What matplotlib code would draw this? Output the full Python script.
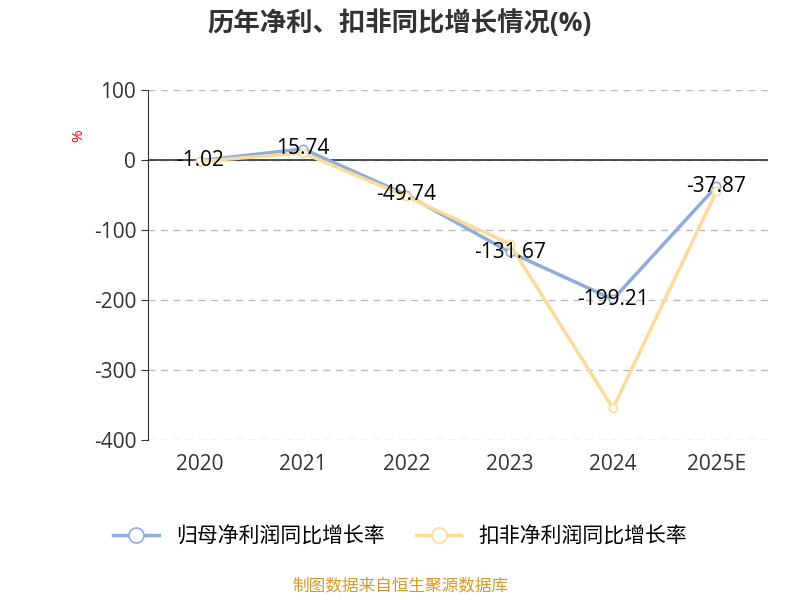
import matplotlib
matplotlib.use("Agg")
import matplotlib.pyplot as plt

plt.rcParams['font.family'] = ['Open Sans', 'Noto Sans CJK SC', 'DejaVu Sans']
plt.rcParams['axes.unicode_minus'] = False

years = ["2020", "2021", "2022", "2023", "2024", "2025E"]
net_growth = [-1.02, 15.74, -49.74, -131.67, -199.21, -37.87]
deduct_growth = [-2, 10, -52, -120, -355, -45]

BLUE = "#8eaddb"
ORANGE = "#fdd99a"

fig = plt.figure(figsize=(8, 6), dpi=100)
ax = fig.add_axes([0.185, 0.267, 0.775, 0.583])
x = list(range(len(years)))

ax.plot(x, net_growth, color=BLUE, lw=2.5, marker="o", ms=6,
        mfc="white", mec=BLUE, mew=1.2, label="归母净利润同比增长率", zorder=3)
ax.plot(x, deduct_growth, color=ORANGE, lw=2.5, marker="o", ms=6,
        mfc="white", mec=ORANGE, mew=1.2, label="扣非净利润同比增长率", zorder=4)
for xi, v in zip(x, net_growth):
    ax.text(xi, v, f"{v:.2f}", ha="center", va="center", fontsize=15, color="black", zorder=5)

ax.set_xlim(-0.5, 5.5)
ax.set_ylim(-400, 100)
ax.set_yticks([100, 0, -100, -200, -300, -400])
ax.set_xticks(x)
ax.set_xticklabels(years)
ax.tick_params(axis="both", labelsize=15, colors="#333333", length=5)
ax.tick_params(axis="x", length=0, pad=10)
ax.grid(axis="y", ls=(0, (5, 4)), color="#bbbbbb", lw=1)
for s in ["top", "right", "bottom"]:
    ax.spines[s].set_visible(False)
ax.spines["left"].set_color("#333333")
ax.axhline(0, color="#333333", lw=1.2, zorder=2)
ax.set_ylabel("%", color="red", fontsize=11, rotation=90)
ax.yaxis.set_label_coords(-0.1, 0.87)

fig.suptitle("历年净利、扣非同比增长情况(%)", fontsize=19, fontweight="bold",
             color="#333333", y=0.985)
fig.legend(loc="center", bbox_to_anchor=(0.5, 0.105), ncol=2, frameon=False,
           fontsize=15, handlelength=2.2, columnspacing=1.5, markerscale=1.8)
fig.text(0.5, 0.015, "制图数据来自恒生聚源数据库", ha="center", fontsize=12, color="#d49a2a")

fig.savefig("out.png")
